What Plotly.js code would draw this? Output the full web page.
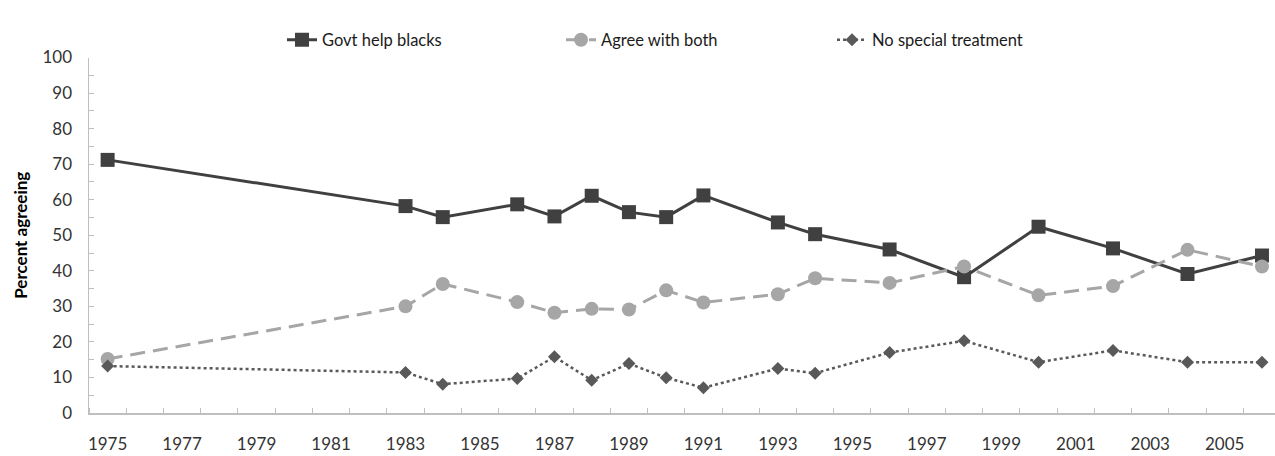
<!DOCTYPE html>
<html>
<head>
<meta charset="utf-8">
<script src="https://cdn.plot.ly/plotly-3.0.1.min.js"></script>
<style>
html,body{margin:0;padding:0;background:#fff;}
#chart{width:1275px;height:456px;}
</style>
</head>
<body>
<div id="chart"></div>
<script>
// Survey years (category positions)
var years = [1975, 1983, 1984, 1986, 1987, 1988, 1989, 1990, 1991, 1993, 1994, 1996, 1998, 2000, 2002, 2004, 2006];

// Series values (percent agreeing)
var govtHelpBlacks   = [71.2, 58.2, 55.1, 58.7, 55.3, 61.1, 56.5, 55.1, 61.2, 53.6, 50.3, 46.0, 38.2, 52.4, 46.3, 39.1, 44.3];
var agreeWithBoth    = [15.2, 30.0, 36.3, 31.2, 28.2, 29.3, 29.1, 34.5, 31.1, 33.4, 37.9, 36.6, 41.2, 33.1, 35.7, 45.9, 41.2];
var noSpecialTreat   = [13.2, 11.4,  8.1,  9.7, 15.8,  9.2, 13.9,  9.9,  7.1, 12.5, 11.2, 17.0, 20.3, 14.3, 17.6, 14.3, 14.3];

var seriesNames = ["Govt help blacks", "Agree with both", "No special treatment"];

var FONT = "Lato, 'Open Sans', 'Liberation Sans', sans-serif";

var traces = [
  {
    x: years, y: govtHelpBlacks, name: seriesNames[0], type: "scatter", mode: "lines+markers",
    line: {color: "#404040", width: 3},
    marker: {symbol: "square", size: 14, color: "#404040"},
    cliponaxis: false, legend: "legend"
  },
  {
    x: years, y: agreeWithBoth, name: seriesNames[1], type: "scatter", mode: "lines+markers",
    line: {color: "#a6a6a6", width: 3, dash: "15px,8px"},
    marker: {symbol: "circle", size: 14, color: "#a6a6a6"},
    cliponaxis: false, legend: "legend2"
  },
  {
    x: years, y: noSpecialTreat, name: seriesNames[2], type: "scatter", mode: "lines+markers",
    line: {color: "#595959", width: 2.5, dash: "dot"},
    marker: {symbol: "diamond", size: 10, color: "#595959"},
    cliponaxis: false, legend: "legend3"
  }
];

var legendBase = {
  xref: "container", yref: "container", xanchor: "left", yanchor: "middle",
  y: 1 - 40/456, orientation: "h", bgcolor: "rgba(0,0,0,0)",
  font: {family: FONT, size: 16.5, color: "#1a1a1a"}
};
function lg(xpx){ var o = Object.assign({}, legendBase); o.x = xpx/1275; return o; }

var layout = {
  width: 1275, height: 456,
  margin: {l: 89, r: 0, t: 19, b: 43, pad: 0},
  paper_bgcolor: "#ffffff", plot_bgcolor: "#ffffff",
  font: {family: FONT, color: "#404040"},
  showlegend: true,
  legend: lg(282),
  legend2: lg(561),
  legend3: lg(832),
  xaxis: {
    range: [1974.5, 2006.35],
    tickmode: "linear", tick0: 1975, dtick: 2,
    ticks: "", showgrid: false, zeroline: false,
    showline: true, linecolor: "#bfbfbf", linewidth: 1.5,
    tickfont: {family: FONT, size: 17, color: "#333333"},
    ticklabelstandoff: 15,
    minor: {tick0: 1974.5, dtick: 1, ticks: "inside", ticklen: 5, tickcolor: "#bfbfbf", tickwidth: 1, showgrid: false},
    fixedrange: true
  },
  yaxis: {
    range: [0, 100],
    tickmode: "linear", tick0: 0, dtick: 10,
    ticks: "inside", ticklen: 5, tickcolor: "#bfbfbf", tickwidth: 1,
    showgrid: false, zeroline: false,
    showline: true, linecolor: "#bfbfbf", linewidth: 1.5,
    tickfont: {family: FONT, size: 17, color: "#333333"},
    ticklabelstandoff: 12,
    minor: {tick0: 0, dtick: 5, ticks: "inside", ticklen: 5, tickcolor: "#bfbfbf", tickwidth: 1, showgrid: false},
    title: {text: "Percent agreeing", font: {family: FONT, size: 17, color: "#000000", weight: "bold"}, standoff: 10},
    fixedrange: true
  }
};

Plotly.newPlot("chart", traces, layout, {displayModeBar: false, staticPlot: true});
</script>
</body>
</html>
